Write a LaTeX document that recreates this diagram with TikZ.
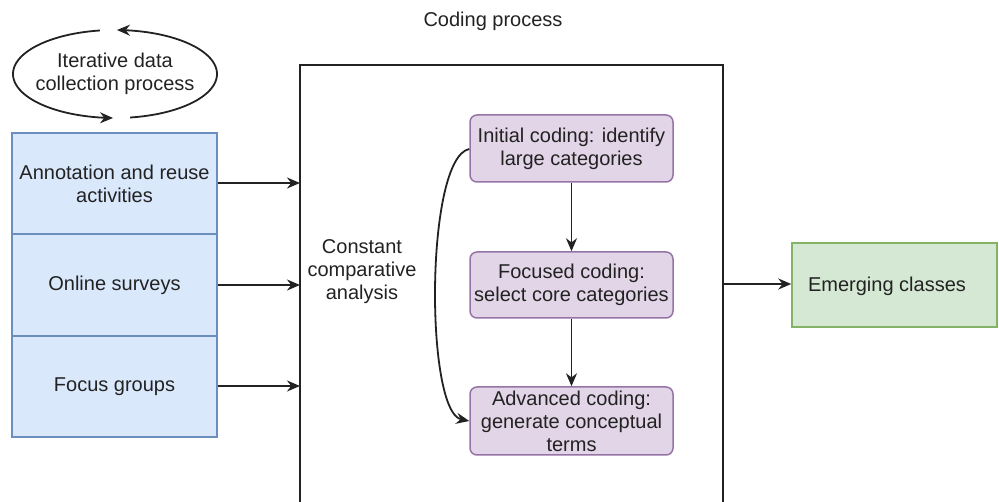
\documentclass[tikz,border=0pt]{standalone}
\usepackage{fontspec}
\setmainfont{Liberation Sans}
\usetikzlibrary{arrows.meta}
\definecolor{bluefill}{HTML}{DAE8FC}
\definecolor{bluedraw}{HTML}{6C8EBF}
\definecolor{purplefill}{HTML}{E1D5E7}
\definecolor{purpledraw}{HTML}{9673A6}
\definecolor{greenfill}{HTML}{D5E8D4}
\definecolor{greendraw}{HTML}{82B366}
\definecolor{ink}{HTML}{222222}
\begin{document}
\begin{tikzpicture}[x=1pt,y=-1pt,
  every node/.style={font=\fontsize{20}{23}\selectfont, text=ink, align=center, inner sep=0pt},
  line/.style={draw=ink, line width=1.8pt},
  arr/.style={line, -{Stealth[length=13pt,width=11pt]}},
  srcbox/.style={draw=bluedraw, fill=bluefill, line width=1.5pt},
  codebox/.style={draw=purpledraw, fill=purplefill, line width=1.5pt, rounded corners=7pt},
  outbox/.style={draw=greendraw, fill=greenfill, line width=1.5pt}]
\useasboundingbox (0,0) rectangle (999,502);

% iterative data collection loop: an ellipse in two arrowed halves
\node (loop) at (115,74) {Iterative data\\collection process};
\draw[arr] plot[domain=81.5:-88.9, samples=80, smooth] ({115+102*cos(\x)},{74+44*sin(\x)});
\draw[arr] plot[domain=261.5:91.1, samples=80, smooth] ({115+102*cos(\x)},{74+44*sin(\x)});

% data sources
\node[srcbox, minimum width=205pt, minimum height=101pt] (ann) at (114.5,183.5) {Annotation and reuse\\activities};
\node[srcbox, minimum width=205pt, minimum height=101pt] (surv) at (114.5,285) {Online surveys};
\node[srcbox, minimum width=205pt, minimum height=101pt] (focus) at (114.5,386.5) {Focus groups};

% coding process frame, running past the lower edge
\begin{scope}
\clip (0,0) rectangle (999,502);
\draw[line, line width=1.6pt] (300,520) -- (300,65) -- (723,65) -- (723,520);
\end{scope}
\coordinate (frameL1) at (300,183);
\coordinate (frameL2) at (300,285);
\coordinate (frameL3) at (300,386);
\coordinate (frameR) at (723,284);
\node (title) at (493,21) {Coding process};
\node (cca) at (362,272) {Constant\\comparative\\analysis};

% coding stages
\node[codebox, minimum width=203pt, minimum height=67pt] (init) at (571.5,148.5) {Initial coding: identify\\large categories};
\node[codebox, minimum width=203pt, minimum height=66pt] (foc) at (571.5,285) {Focused coding:\\select core categories};
\node[codebox, minimum width=203pt, minimum height=68pt] (adv) at (571.5,421) {Advanced coding:\\generate conceptual\\terms};

% result
\node[outbox, minimum width=205pt, minimum height=84pt] (emerg) at (894.5,285) {};
\node (emergtxt) at (887,286) {Emerging classes};

% connectors
\draw[arr] (ann.east |- frameL1) -- (frameL1);
\draw[arr] (surv.east |- frameL2) -- (frameL2);
\draw[arr] (focus.east |- frameL3) -- (frameL3);
\draw[arr] (init) -- (foc);
\draw[arr] (foc) -- (adv);
\draw[arr] (init.west |- 0,149) .. controls (425,158) and (425,412) .. (adv.west);
\draw[arr] (frameR) -- (emerg.west |- frameR);
\end{tikzpicture}
\end{document}
